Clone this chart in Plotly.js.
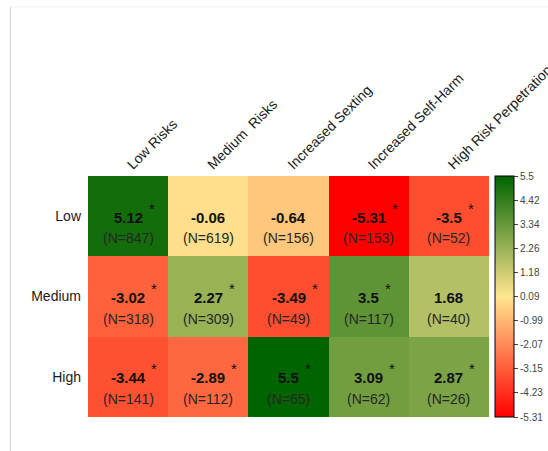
<!DOCTYPE html>
<html>
<head>
<meta charset="utf-8">
<script src="https://cdn.plot.ly/plotly-3.0.1.min.js"></script>
<style>
  html, body { margin: 0; padding: 0; background: #ffffff; }
  #chart { width: 548px; height: 451px; }
</style>
</head>
<body>
<div id="chart"></div>
<script>
// Risk groups (rows) and outcome profiles (columns)
const rowLabels = ['Low', 'Medium', 'High'];
const colLabels = ['Low Risks', 'Medium\u00a0 Risks', 'Increased Sexting', 'Increased Self-Harm', 'High Risk Perpetration'];

// Standardised scores per cell
const lowScores    = [5.12, -0.06, -0.64, -5.31, -3.5];
const mediumScores = [-3.02, 2.27, -3.49, 3.5, 1.68];
const highScores   = [-3.44, -2.89, 5.5, 3.09, 2.87];

// Cell sample sizes
const lowCounts    = [847, 619, 156, 153, 52];
const mediumCounts = [318, 309, 49, 117, 40];
const highCounts   = [141, 112, 65, 62, 26];

// 1 = significant (starred)
const lowSig    = [1, 0, 0, 1, 1];
const mediumSig = [1, 1, 1, 1, 0];
const highSig   = [1, 1, 1, 1, 1];

// Colour bar tick values
const scaleTicks = [5.5, 4.42, 3.34, 2.26, 1.18, 0.09, -0.99, -2.07, -3.15, -4.23, -5.31];

const scores = [lowScores, mediumScores, highScores];
const counts = [lowCounts, mediumCounts, highCounts];
const sig = [lowSig, mediumSig, highSig];

const zMin = Math.min(...scaleTicks);
const zMax = Math.max(...scaleTicks);

const font = 'Liberation Sans, Arial, sans-serif';

// rough width of a bold 15px label, used to place the star just after it
function boldWidth(s) {
  let w = 0;
  for (const ch of s) {
    if (ch === '-') w += 5;
    else if (ch === '.') w += 4.2;
    else w += 8.3;
  }
  return w;
}

const annotations = [];
rowLabels.forEach((r, i) => {
  colLabels.forEach((c, j) => {
    const v = scores[i][j];
    const txt = String(v);
    annotations.push({
      x: c, y: r, xref: 'x', yref: 'y', showarrow: false,
      text: '<b>' + txt + '</b>', yshift: -1,
      font: { family: font, size: 15, color: '#111111' }
    });
    annotations.push({
      x: c, y: r, xref: 'x', yref: 'y', showarrow: false,
      text: '(N=' + counts[i][j] + ')', yshift: -22,
      font: { family: font, size: 14, color: '#262626' }
    });
    if (sig[i][j]) {
      annotations.push({
        x: c, y: r, xref: 'x', yref: 'y', showarrow: false,
        text: '*', xanchor: 'left',
        xshift: boldWidth(txt) / 2 + 4, yshift: 8,
        font: { family: font, size: 15, color: '#111111' }
      });
    }
  });
});

const trace = {
  type: 'heatmap',
  x: colLabels,
  y: rowLabels,
  z: scores,
  zmin: zMin,
  zmax: zMax,
  colorscale: [
    [0, '#ff0000'],
    [0.5, '#ffe690'],
    [1, '#006400']
  ],
  hoverinfo: 'skip',
  colorbar: {
    x: 1.015, xanchor: 'left', xref: 'paper',
    y: 0.5, yanchor: 'middle', len: 1, lenmode: 'fraction',
    thickness: 19, thicknessmode: 'pixels',
    outlinecolor: '#000000', outlinewidth: 1,
    ticks: 'outside', ticklen: 4, tickcolor: '#444',
    tickvals: scaleTicks, ticktext: scaleTicks.map(String),
    tickfont: { family: font, size: 10, color: '#444' },
    xpad: 0, ypad: 0
  }
};

const layout = {
  width: 548, height: 451,
  margin: { l: 88, r: 59, t: 176, b: 34, autoexpand: false },
  paper_bgcolor: '#ffffff',
  plot_bgcolor: '#ffffff',
  xaxis: {
    side: 'top', tickangle: -45, ticks: '', showgrid: false, zeroline: false,
    showline: false, fixedrange: true, automargin: false,
    tickfont: { family: font, size: 14, color: '#1a1a1a' }
  },
  yaxis: {
    autorange: 'reversed', ticks: '', showgrid: false, zeroline: false,
    showline: false, fixedrange: true, ticklabelstandoff: 6, automargin: false,
    tickfont: { family: font, size: 14, color: '#1a1a1a' }
  },
  annotations: annotations,
  shapes: [
    { type: 'line', xref: 'paper', yref: 'paper',
      x0: -0.1933, x1: -0.1933, y0: 1.702, y1: -0.15,
      line: { color: '#d4d4d4', width: 1.2 } },
    { type: 'line', xref: 'paper', yref: 'paper',
      x0: -0.1933, x1: 1.2, y0: 1.702, y1: 1.702,
      line: { color: '#f2f2f2', width: 1 } }
  ],
  showlegend: false
};

Plotly.newPlot('chart', [trace], layout, { displayModeBar: false, staticPlot: true });
</script>
</body>
</html>
